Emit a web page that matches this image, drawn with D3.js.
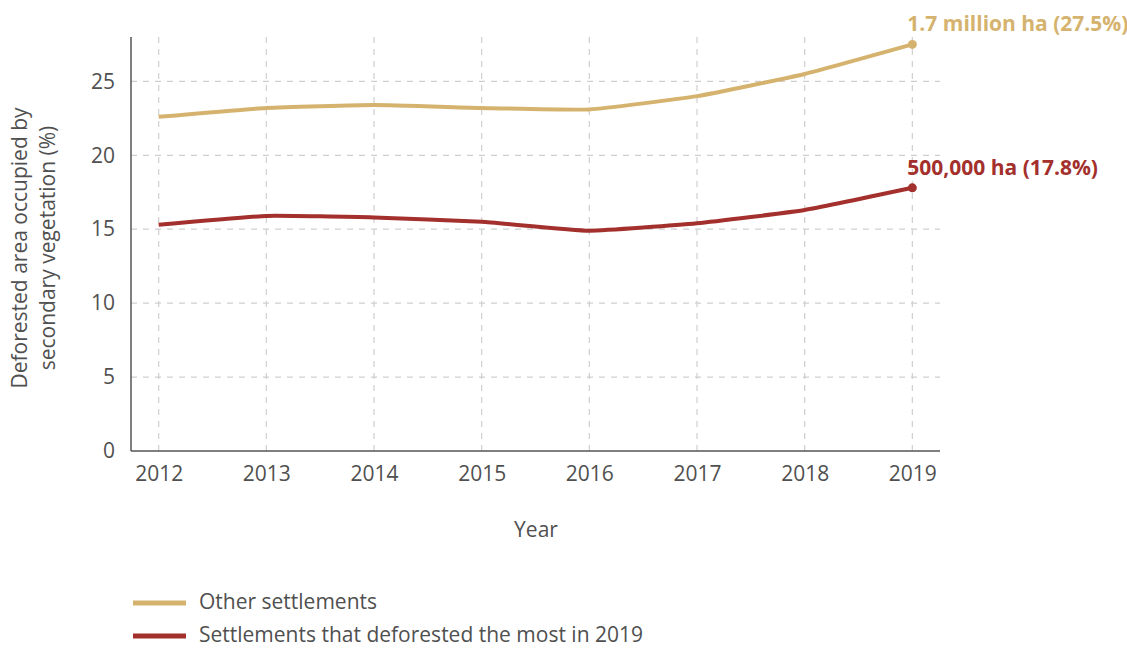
<!DOCTYPE html>
<html><head><meta charset="utf-8">
<script src="https://cdn.jsdelivr.net/npm/d3@7"></script>
<style>
body{margin:0;background:#fff;}
text{font-family:"Open Sans",Lato,sans-serif;}
</style></head>
<body><svg id="chart" width="1127" height="648"></svg>
<script>
const years = [2012, 2013, 2014, 2015, 2016, 2017, 2018, 2019];
const otherSettlements = [22.6, 23.2, 23.4, 23.2, 23.1, 24.0, 25.5, 27.5];
const topSettlements = [15.3, 15.9, 15.8, 15.5, 14.9, 15.4, 16.3, 17.8];
const yTicks = [0, 5, 10, 15, 20, 25];
const seriesNames = ["Other settlements", "Settlements that deforested the most in 2019"];
const endLabels = ["1.7 million ha (27.5%)", "500,000 ha (17.8%)"];
const colors = ["#d5b36e", "#a3302c"];

(function () {
const svg = d3.select("#chart");
const mLeft = 131, mRight = 940, mTop = 37, mBottom = 451;
const x = d3.scalePoint().domain(years).range([mLeft, mRight]).padding(0.257);
const y = d3.scaleLinear().domain([0, 28]).range([mBottom, mTop]);
const textColor = "#505050";
const fontFam = "'Open Sans', Lato, sans-serif";
const fs = "21px";

// grid
const grid = svg.append("g");
grid.selectAll("line.h").data(yTicks.filter(d => d > 0)).join("line").attr("class", "h")
  .attr("x1", mLeft).attr("x2", mRight).attr("y1", d => y(d)).attr("y2", d => y(d))
  .attr("stroke", "#cfcfcf").attr("stroke-width", 1.2).attr("stroke-dasharray", "6,6");
grid.selectAll("line.v").data(years).join("line").attr("class", "v")
  .attr("x1", d => x(d)).attr("x2", d => x(d)).attr("y1", mTop).attr("y2", mBottom)
  .attr("stroke", "#cfcfcf").attr("stroke-width", 1.2).attr("stroke-dasharray", "6,6");

// axes
const yAxis = svg.append("g").attr("transform", `translate(${mLeft},0)`)
  .call(d3.axisLeft(y).tickValues(yTicks).tickSize(0).tickPadding(16));
const xAxis = svg.append("g").attr("transform", `translate(0,${mBottom})`)
  .call(d3.axisBottom(x).tickSize(0).tickPadding(15));
[yAxis, xAxis].forEach(a => {
  a.select(".domain").attr("stroke", "#555").attr("stroke-width", 1.5);
  a.selectAll("text").attr("fill", textColor).style("font-size", fs).style("font-family", fontFam);
});
xAxis.select(".domain").attr("d", `M${mLeft},0H${mRight}`);
yAxis.select(".domain").attr("d", `M0,${mTop}V${mBottom}`);

// axis titles
svg.append("text").attr("x", 536).attr("y", 537).attr("text-anchor", "middle")
  .attr("fill", textColor).style("font-size", fs).text("Year");
const yt = svg.append("text").attr("transform", "translate(0,248) rotate(-90)")
  .attr("text-anchor", "middle").attr("fill", textColor).style("font-size", fs);
yt.append("tspan").attr("x", 0).attr("y", 27).text("Deforested area occupied by");
yt.append("tspan").attr("x", 0).attr("y", 55).text("secondary vegetation (%)");

// lines
const line = d3.line().x((d, i) => x(years[i])).y(d => y(d)).curve(d3.curveCardinal.tension(0.6));
[otherSettlements, topSettlements].forEach((vals, k) => {
  svg.append("path").datum(vals).attr("d", line).attr("fill", "none")
    .attr("stroke", colors[k]).attr("stroke-width", 4).attr("stroke-linejoin", "round");
  const last = vals.length - 1;
  svg.append("circle").attr("cx", x(years[last])).attr("cy", y(vals[last])).attr("r", 4.5).attr("fill", colors[k]);
  svg.append("text").attr("x", x(years[last]) - 5).attr("y", y(vals[last]) - 13)
    .attr("fill", colors[k]).style("font-size", fs).style("font-weight", "700").text(endLabels[k]);
});

// legend
seriesNames.forEach((n, k) => {
  const ly = 603 + k * 33;
  svg.append("line").attr("x1", 133).attr("x2", 186).attr("y1", ly).attr("y2", ly)
    .attr("stroke", colors[k]).attr("stroke-width", 5);
  svg.append("text").attr("x", 199).attr("y", ly + 6).attr("fill", textColor)
    .style("font-size", fs).text(n);
});
})();
</script></body></html>
